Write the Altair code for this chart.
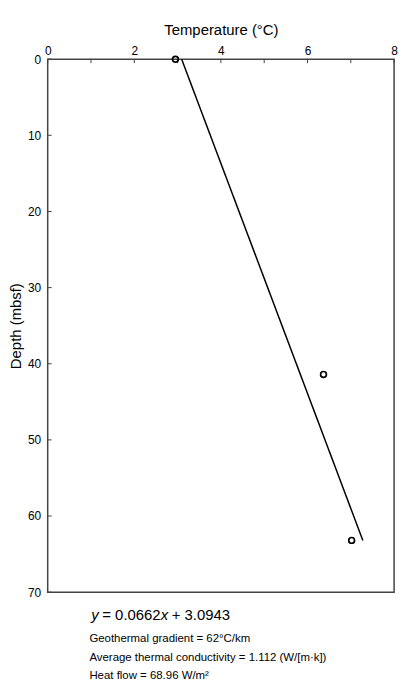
import altair as alt
import pandas as pd

# Measured temperatures (°C) and depths (mbsf)
temps = [2.95, 6.37, 7.02]
depths = [0.0, 41.4, 63.2]

# Linear fit: T = slope * depth + intercept
slope = 0.0662
intercept = 3.0943
fit_depths = [0.0, 63.2]
fit_temps = [intercept + slope * d for d in fit_depths]

x_ticks = [0, 1, 2, 3, 4, 5, 6, 7, 8]
x_labels = [0, 2, 4, 6, 8]
y_ticks = [0, 10, 20, 30, 40, 50, 60, 70]

eq_parts = ["y", "= 0.0662", "x", "+ 3.0943"]
notes = [
    "Geothermal gradient = 62°C/km",
    "Average thermal conductivity = 1.112 (W/[m·k])",
    "Heat flow = 68.96 W/m²",
]

FONT = "Liberation Sans"
W, H = 349, 537

pts = pd.DataFrame({"temp": temps, "depth": depths})
fit = pd.DataFrame({"temp": fit_temps, "depth": fit_depths})
xt = pd.DataFrame({"t": x_ticks})
yt = pd.DataFrame({"d": y_ticks})

xscale = alt.Scale(domain=[0, 8], nice=False, zero=False)
yscale = alt.Scale(domain=[0, 70], nice=False, reverse=True)

xaxis = alt.Axis(orient="top", values=x_labels, title="Temperature (°C)",
                 ticks=False, domain=False, grid=False, labelFlush=False,
                 labelFont=FONT, labelFontSize=12, labelColor="black", labelPadding=2,
                 titleFont=FONT, titleFontSize=15, titleFontWeight="normal",
                 titleColor="black", titlePadding=7)
yaxis = alt.Axis(values=y_ticks, title="Depth (mbsf)", ticks=False, domain=False,
                 grid=False, labelFlush=False, labelFont=FONT, labelFontSize=12,
                 labelColor="black", labelPadding=7,
                 titleFont=FONT, titleFontSize=15, titleFontWeight="normal",
                 titleColor="black", titlePadding=4)

line = alt.Chart(fit).mark_line(color="black", strokeWidth=1.5).encode(
    x=alt.X("temp:Q", scale=xscale, axis=xaxis),
    y=alt.Y("depth:Q", scale=yscale, axis=yaxis),
    order="depth:Q",
)

points = alt.Chart(pts).mark_point(shape="circle", filled=False, color="black",
                                   size=34, strokeWidth=1.7, opacity=1).encode(
    x=alt.X("temp:Q", scale=xscale),
    y=alt.Y("depth:Q", scale=yscale),
)

xtick_marks = alt.Chart(xt).mark_rule(color="#444", strokeWidth=1).encode(
    x=alt.X("t:Q", scale=xscale),
    y=alt.value(0),
    y2=alt.value(4),
)
ytick_marks = alt.Chart(yt).mark_rule(color="#444", strokeWidth=1).encode(
    y=alt.Y("d:Q", scale=yscale),
    x=alt.value(0),
    x2=alt.value(4),
)


def txt(s, x, y, size, style="normal"):
    return alt.Chart(alt.Data(values=[{}])).mark_text(
        align="left", baseline="middle", font=FONT, fontSize=size,
        fontStyle=style, color="black",
    ).encode(x=alt.value(x), y=alt.value(y), text=alt.value(s))


eq_x = [44, 55, 114, 125]
eq_style = ["italic", "normal", "italic", "normal"]
eq_layers = [txt(s, x, 560, 15, st) for s, x, st in zip(eq_parts, eq_x, eq_style)]
note_y = [584, 603, 621]
note_layers = [txt(s, 42, y, 11.5) for s, y in zip(notes, note_y)]

chart = alt.layer(xtick_marks, ytick_marks, line, points, *eq_layers, *note_layers).properties(
    width=W, height=H,
    autosize=alt.AutoSizeParams(type="none"),
    padding={"left": 40, "top": 49, "right": 12, "bottom": 95},
).configure_view(stroke="#444", strokeWidth=1.5)

chart.save("out.html", embed_options={"renderer": "svg", "actions": False})
